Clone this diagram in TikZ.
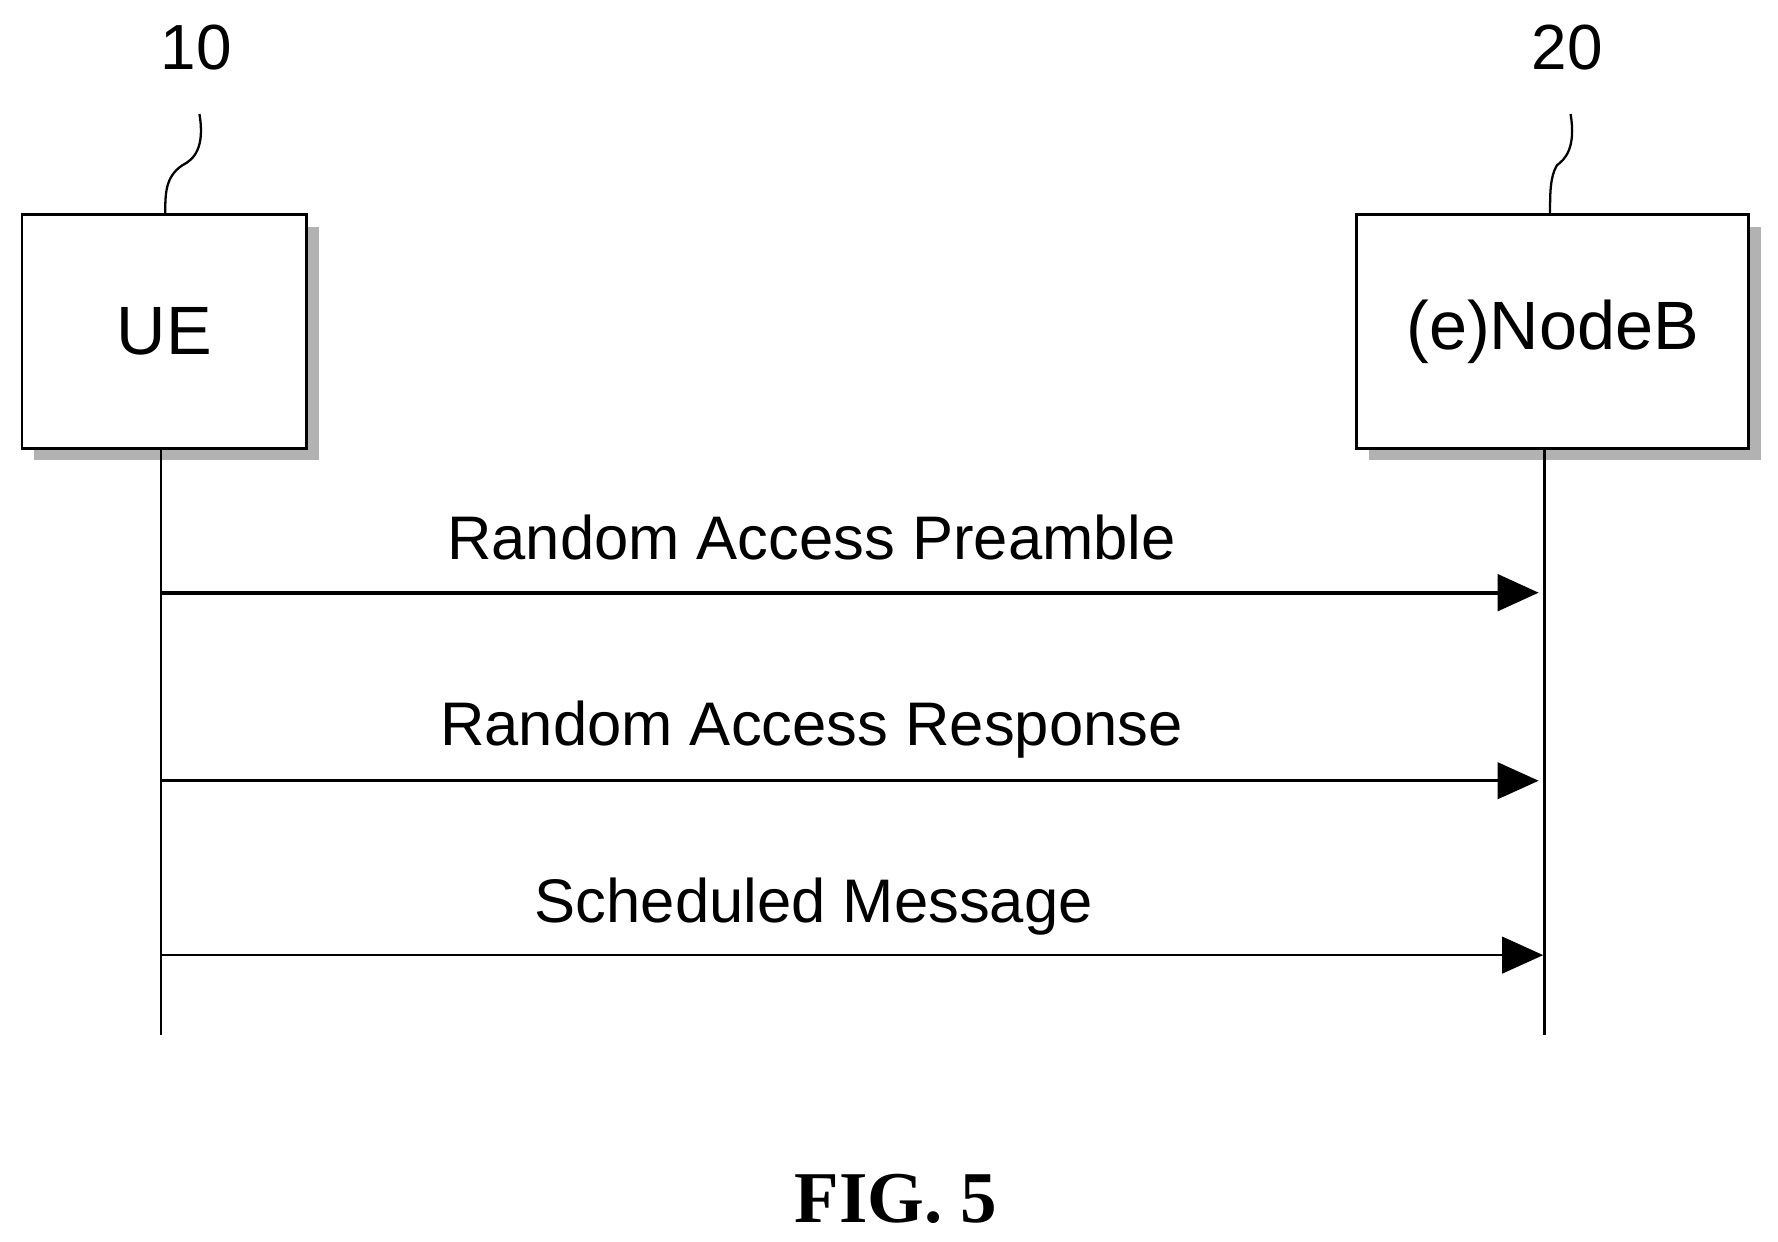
\documentclass[tikz,border=0pt]{standalone}
\usepackage{fontspec}
\setmainfont{Liberation Sans}
\newfontfamily\figfont{Liberation Serif}
\usetikzlibrary{arrows.meta}
\begin{document}
\begin{tikzpicture}[x=0.5pt,y=-0.5pt,
  ent/.style={draw,line width=1.2pt,fill=white,minimum width=#1,minimum height=102.5pt,inner sep=0},
  msg/.style={-{Triangle[length=18pt,width=16pt]},line width=1.2pt},
  lbl/.style={font=\fontsize{27}{30}\selectfont},
  life/.style={line width=1pt}]
\useasboundingbox (0,0) rectangle (1560,1089);
\fill[gray!60] (30,199) rectangle (280,404);
\fill[gray!60] (1201,199) rectangle (1545,404);
\node[ent=125pt,anchor=north west] (ue) at (18,187) {};
\node[ent=172pt,anchor=north west] (enb) at (1189,187) {};
\node[lbl,font=\fontsize{30}{32}\selectfont] at (ue.center) {UE};
\node[lbl,font=\fontsize{30}{32}\selectfont] at (enb.center) {(e)NodeB};
\node[font=\fontsize{28}{30}\selectfont] (n10) at (172,42) {10};
\node[font=\fontsize{28}{30}\selectfont] (n20) at (1375,42) {20};
\draw[line width=1pt] (175,100) .. controls (180,130) and (170,140) .. (160,145) .. controls (145,155) and (145,170) .. (145,187);
\draw[line width=1pt] (1378,100) .. controls (1383,130) and (1373,140) .. (1366,145) .. controls (1360,155) and (1360,170) .. (1360,187);
\coordinate (ueEnd) at (141,908);
\coordinate (enbEnd) at (1355,908);
\draw[life] (141,392) -- (ueEnd);
\draw[life] (1355,392) -- (enbEnd);
\coordinate (a1) at (141,520); \coordinate (b1) at (1350,520);
\coordinate (a2) at (141,685); \coordinate (b2) at (1350,685);
\coordinate (a3) at (141,838); \coordinate (b3) at (1354,838);
\draw[msg,line width=1.6pt] (a1) -- (b1);
\draw[msg] (a2) -- (b2);
\draw[msg] (a3) -- (b3);
\node[lbl] at (712,472) {Random Access Preamble};
\node[lbl] at (712,640) {Random Access Response};
\node[lbl] at (714,795) {Scheduled Message};
\node[font=\figfont\bfseries\fontsize{32}{34}\selectfont] at (786,1052) {FIG. 5};
\end{tikzpicture}
\end{document}
